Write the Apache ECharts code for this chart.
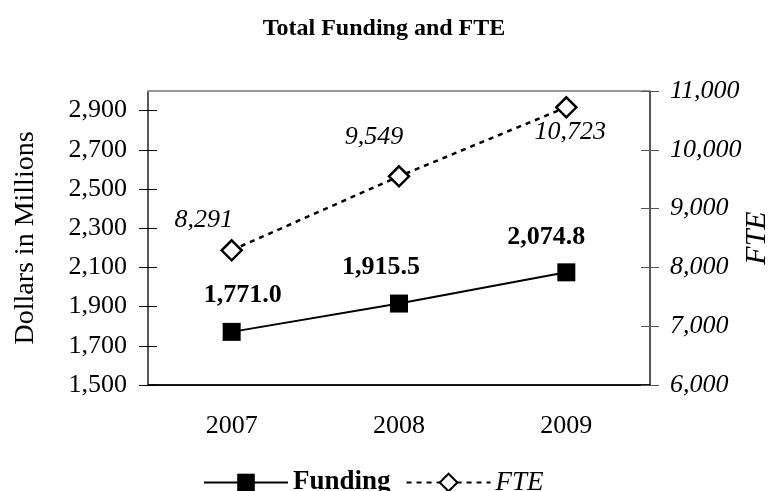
<!DOCTYPE html>
<html>
<head>
<meta charset="utf-8">
<title>Total Funding and FTE</title>
<script src="https://cdn.jsdelivr.net/npm/echarts@6/dist/echarts.min.js"></script>
<style>
    html, body { margin: 0; padding: 0; background: #fff; }
    #fundingChart { width: 768px; height: 491px; }
</style>
</head>
<body>
<div id="fundingChart"></div>
<script>
var years = ['2007', '2008', '2009'];
var fundingValues = [1771.0, 1915.5, 2074.8];
var fteValues = [8291, 9549, 10723];
var dollarTicks = [1500, 1700, 1900, 2100, 2300, 2500, 2700, 2900];
var fteTicks = [6000, 7000, 8000, 9000, 10000, 11000];

/* 千分位格式 */
function fmt(v, digits){
    var parts = v.toFixed(digits).split('.');
    parts[0] = parts[0].replace(/\B(?=(\d{3})+(?!\d))/g, ',');
    return parts.join('.');
}

var fundingChartObj = {
    myChart : echarts.init(document.getElementById('fundingChart')),
    option : null,
    init : function(){
        var that = this;
        that.render();
    },
    resize : function(){
        var that = this;
        if(!that.option){return}
        that.myChart.resize();
        that.myChart.setOption(that.option);
    },
    render : function(){
        var that = this;
        var fundingOffsets = [[11, -37], [-18, -36], [-20, -35]];
        var fteOffsets = [[-28, -30], [-25, -39], [4, 25]];
        var fundingData = fundingValues.map(function(v, i){
            return {value : v, label : {offset : fundingOffsets[i]}};
        });
        var fteData = fteValues.map(function(v, i){
            return {value : v, label : {offset : fteOffsets[i]}};
        });
        that.drawChart(fundingData, fteData);
    },
    drawChart : function(fundingData, fteData){
        var that = this;
        var font = 'Liberation Serif';
        var dMin = dollarTicks[0], dMax = 3000;
        var fMin = fteTicks[0], fMax = fteTicks[fteTicks.length - 1];
        that.option = {
            animation : false,
            textStyle : {fontFamily : font, color : '#000'},
            title : {
                text : 'Total Funding and FTE',
                left : 'center',
                top : 12,
                textStyle : {fontFamily : font, fontSize : 24, fontWeight : 'bold', color : '#000'}
            },
            legend : {
                top : 464,
                left : 198,
                itemWidth : 84,
                itemHeight : 22,
                itemGap : 15,
                textStyle : {fontFamily : font, fontSize : 27, color : '#000'},
                data : [
                    {name : 'Funding', textStyle : {fontWeight : 'bold'}},
                    {name : 'FTE', textStyle : {fontStyle : 'italic'}}
                ]
            },
            /* 网格边框充当左右轴线 */
            grid : {
                left : 148, right : 118, top : 91, bottom : 106,
                outerBoundsMode : 'none',
                show : true, borderColor : '#222', borderWidth : 1.5,
                backgroundColor : 'transparent'
            },
            xAxis : [
                {
                    type : 'category',
                    data : years,
                    boundaryGap : true,
                    axisLine : {lineStyle : {color : '#000', width : 1.5}},
                    axisTick : {inside : false, length : 9, lineStyle : {color : '#000'}},
                    axisLabel : {fontFamily : font, fontSize : 26, color : '#000', margin : 28}
                },
                /* 顶部灰色边框 */
                {
                    type : 'category',
                    data : years,
                    position : 'top',
                    axisLine : {show : true, lineStyle : {color : '#999', width : 2}},
                    axisTick : {show : false},
                    axisLabel : {show : false}
                }
            ],
            yAxis : [
                /* 轴向内偏移 9px，刻度长 18px，使刻度线穿过边框 */
                {
                    type : 'value', position : 'left', offset : -9,
                    min : dMin, max : dMax,
                    name : 'Dollars in Millions',
                    nameLocation : 'middle', nameRotate : 90, nameGap : 117, nameMoveOverlap : false,
                    nameTextStyle : {fontFamily : font, fontSize : 28, color : '#000'},
                    splitLine : {show : false},
                    axisLine : {show : false},
                    axisTick : {show : true, length : 18, customValues : dollarTicks, lineStyle : {color : '#000'}},
                    axisLabel : {fontFamily : font, fontSize : 26, color : '#000', margin : 30,
                        customValues : dollarTicks,
                        formatter : function(v){ return fmt(v, 0); }}
                },
                {
                    type : 'value', position : 'right', offset : -9,
                    min : fMin, max : fMax, interval : 1000,
                    name : 'FTE',
                    nameLocation : 'middle', nameRotate : 90, nameGap : 101, nameMoveOverlap : false,
                    nameTextStyle : {fontFamily : font, fontSize : 30, fontStyle : 'italic', color : '#000'},
                    splitLine : {show : false},
                    axisLine : {show : false},
                    axisTick : {show : true, length : 18, lineStyle : {color : '#555'}},
                    axisLabel : {fontFamily : font, fontSize : 26, fontStyle : 'italic', color : '#000', margin : 29,
                        formatter : function(v){ return fmt(v, 0); }}
                }
            ],
            series : [
                {
                    name : 'Funding',
                    type : 'line',
                    yAxisIndex : 0,
                    data : fundingData,
                    symbol : 'rect',
                    symbolSize : 18,
                    lineStyle : {color : '#000', width : 2},
                    itemStyle : {color : '#000'},
                    label : {
                        show : true,
                        position : 'inside',
                        fontFamily : font,
                        fontSize : 26,
                        fontWeight : 'bold',
                        color : '#000',
                        formatter : function(p){ return fmt(p.value, 1); }
                    }
                },
                {
                    name : 'FTE',
                    type : 'line',
                    yAxisIndex : 1,
                    data : fteData,
                    symbol : 'diamond',
                    symbolSize : 20,
                    lineStyle : {color : '#000', width : 2.5, type : [5, 5]},
                    itemStyle : {color : '#fff', borderColor : '#000', borderWidth : 2.5},
                    label : {
                        show : true,
                        position : 'inside',
                        fontFamily : font,
                        fontSize : 26,
                        fontStyle : 'italic',
                        color : '#000',
                        formatter : function(p){ return fmt(p.value, 0); }
                    }
                },
                /* 空系列，仅用于挂载顶部边框轴 */
                {name : 'topBorder', type : 'line', xAxisIndex : 1, yAxisIndex : 0, data : [], silent : true}
            ]
        };
        that.myChart.setOption(that.option);
    }
};
fundingChartObj.init();

/* 窗口大小改变时，图表随之改变 */
(function resizeChart(){
    window.onresize = function(){
        fundingChartObj.resize();
    }
})();
</script>
</body>
</html>
